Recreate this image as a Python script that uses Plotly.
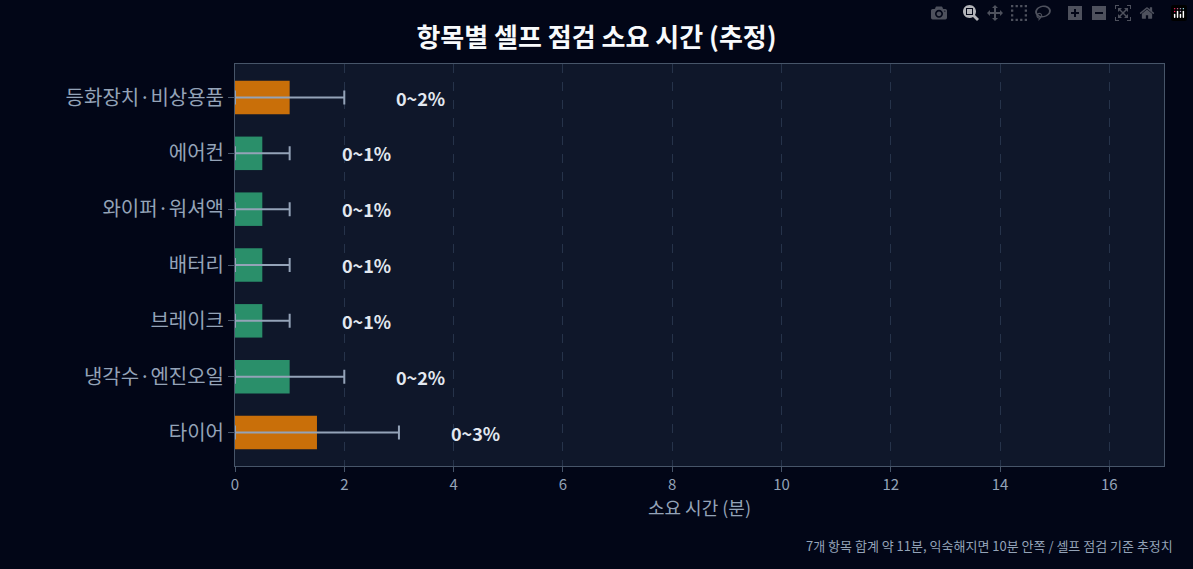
import plotly.graph_objects as go

categories = ["타이어", "냉각수·엔진오일", "브레이크", "배터리", "와이퍼·워셔액", "에어컨", "등화장치·비상용품"]
minutes = [1.5, 1.0, 0.5, 0.5, 0.5, 0.5, 1.0]
err_plus = [1.5, 1.0, 0.5, 0.5, 0.5, 0.5, 1.0]
err_minus = [1.5, 1.0, 0.5, 0.5, 0.5, 0.5, 1.0]
labels = ["0~3%", "0~2%", "0~1%", "0~1%", "0~1%", "0~1%", "0~2%"]
colors = ["#c96f09", "#2a8f6a", "#2a8f6a", "#2a8f6a", "#2a8f6a", "#2a8f6a", "#c96f09"]
font = "Noto Sans CJK KR"

fig = go.Figure(go.Bar(
    y=categories, x=minutes, orientation="h", width=0.6,
    marker=dict(color=colors, line=dict(width=0)),
    error_x=dict(type="data", array=err_plus, arrayminus=err_minus, symmetric=False,
                 color="#94a3b8", thickness=2, width=7),
))
for c, v, e, t in zip(categories, minutes, err_plus, labels):
    fig.add_annotation(x=v + e + 1.4, y=c, text=f"<b>{t}</b>", showarrow=False,
                       font=dict(color="#e2e8f0", size=18, family=font))
fig.add_annotation(x=1.012, y=-0.197, xref="paper", yref="paper", xanchor="right", yanchor="middle",
                   text="7개 항목 합계 약 11분, 익숙해지면 10분 안쪽 / 셀프 점검 기준 추정치",
                   showarrow=False, font=dict(color="#94a3b8", size=13, family=font))
fig.update_layout(
    width=1193, height=569, paper_bgcolor="#020617", plot_bgcolor="#0f172a",
    margin=dict(l=235, r=29, t=64, b=103),
    title=dict(text="<b>항목별 셀프 점검 소요 시간 (추정)</b>", x=0.5, xanchor="center", y=0.95,
               font=dict(color="#f8fafc", size=26, family=font)),
    font=dict(family=font, color="#94a3b8"),
    showlegend=False,
    xaxis=dict(range=[0, 17], dtick=2, showgrid=True, gridcolor="#26334a", griddash="dash",
               zeroline=False, showline=True, linecolor="#475569", mirror=True,
               ticks="outside", tickcolor="#475569", tickfont=dict(size=15, color="#94a3b8"),
               title=dict(text="소요 시간 (분)", font=dict(size=18, color="#94a3b8"), standoff=8)),
    yaxis=dict(showgrid=False, showline=True, linecolor="#475569", mirror=True,
               ticks="outside", tickcolor="#475569", ticklen=6,
               tickfont=dict(size=20, color="#94a3b8"), range=[-0.6, 6.6]),
)
fig.write_html("out.html", post_script="document.body.style.margin='0';document.body.style.background='#020617';")
